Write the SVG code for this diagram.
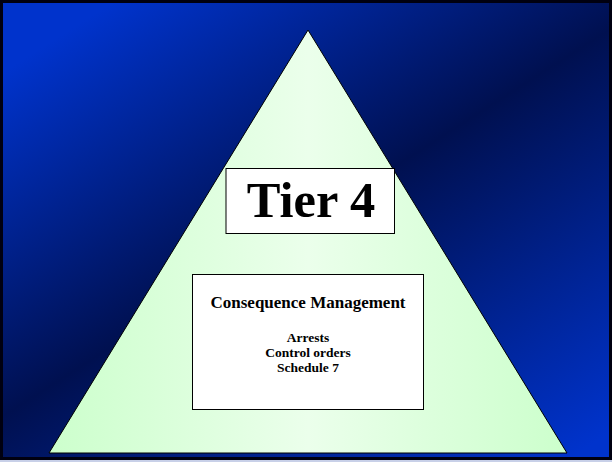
<svg xmlns="http://www.w3.org/2000/svg" width="612" height="462" viewBox="0 0 612 462">
  <defs>
    <linearGradient id="bg" gradientUnits="userSpaceOnUse" x1="124" y1="-5" x2="463" y2="527">
      <stop offset="0" stop-color="#0033cc"/>
      <stop offset="0.46" stop-color="#001050"/>
      <stop offset="1" stop-color="#0033cc"/>
    </linearGradient>
    <linearGradient id="tri" x1="0" y1="0" x2="1" y2="0">
      <stop offset="0" stop-color="#ccffcc"/>
      <stop offset="0.5" stop-color="#ebffeb"/>
      <stop offset="1" stop-color="#ccffcc"/>
    </linearGradient>
  </defs>
  <style>
    .box { fill: #ffffff; stroke: #000000; stroke-width: 1; }
    text { font-family: "Liberation Serif", "Times New Roman", serif; font-weight: bold; fill: #000000; text-anchor: middle; }
    .small { font-size: 13.5px; }
  </style>
  <rect width="612" height="462" fill="#c8d0e8"/>
  <rect id="background" x="1.5" y="1.5" width="609" height="457" fill="url(#bg)" stroke="#000010" stroke-width="3"/>
  <g id="pyramid">
    <polygon points="308,30 567,453 49,453" fill="url(#tri)" stroke="#000000" stroke-width="1"/>
  </g>
  <g id="tier-label">
    <rect class="box" x="226" y="168.5" width="168.5" height="65"/>
    <text x="311" y="217" font-size="50.5">Tier 4</text>
  </g>
  <g id="consequence-box">
    <rect class="box" x="192.5" y="274.5" width="231" height="135"/>
    <text x="308" y="308" font-size="17">Consequence Management</text>
    <text class="small" x="308" y="342">Arrests</text>
    <text class="small" x="308" y="357">Control orders</text>
    <text class="small" x="308" y="372">Schedule 7</text>
  </g>
  <g id="connectors"/>
</svg>
